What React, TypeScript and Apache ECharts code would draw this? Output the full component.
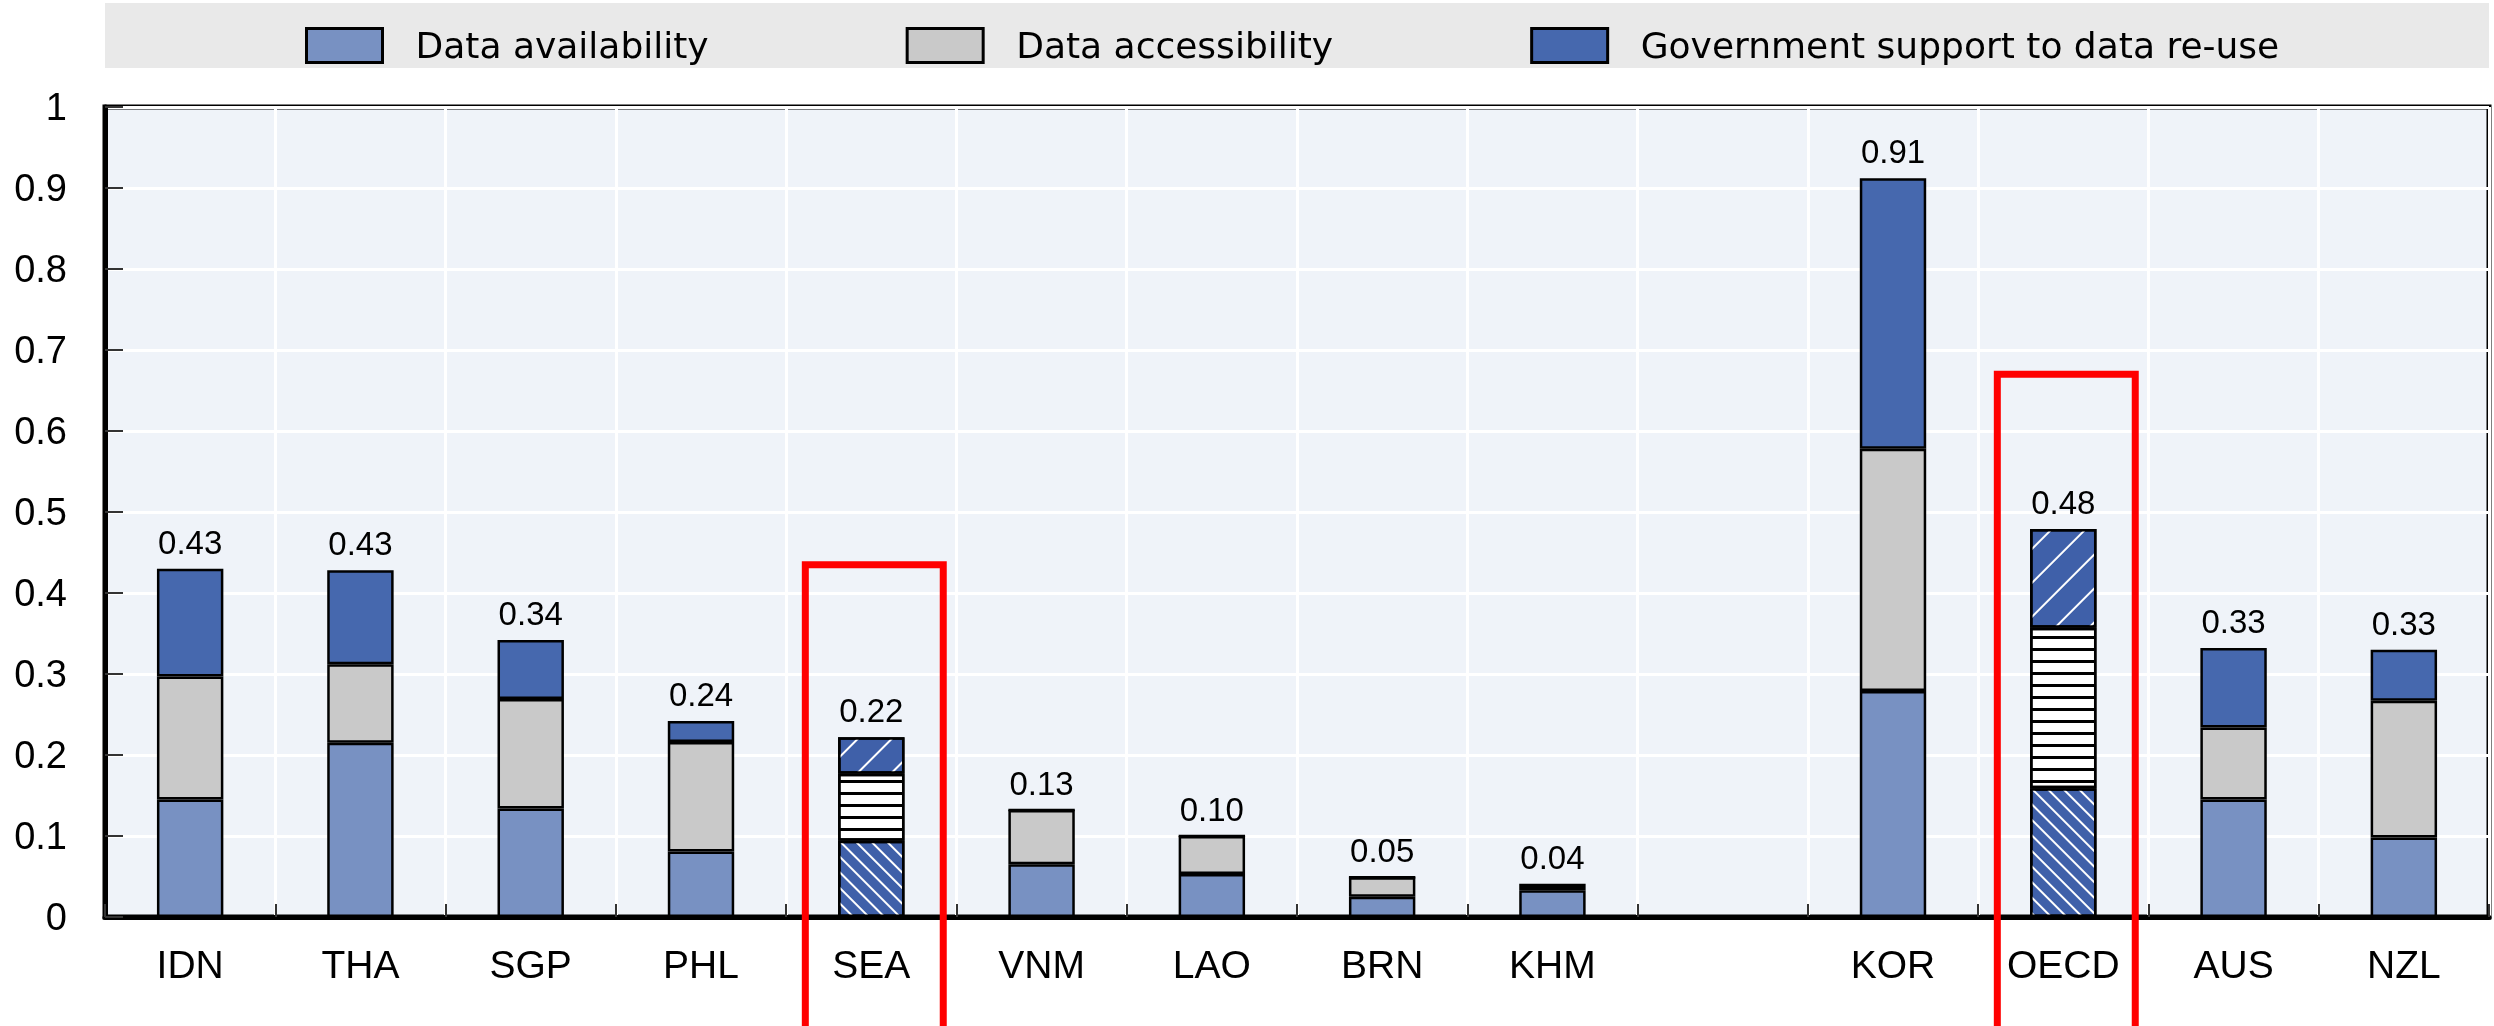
import React, { useEffect, useRef } from "react";
import * as echarts from "echarts";

const categories = ["IDN", "THA", "SGP", "PHL", "SEA", "VNM", "LAO", "BRN", "KHM", "", "KOR", "OECD", "AUS", "NZL"];
const availability = [0.145, 0.215, 0.134, 0.081, 0.094, 0.065, 0.053, 0.025, 0.033, null, 0.279, 0.159, 0.145, 0.098];
const accessibility = [0.152, 0.097, 0.135, 0.135, 0.083, 0.067, 0.047, 0.024, 0.004, null, 0.299, 0.198, 0.089, 0.169];
const govSupport = [0.133, 0.116, 0.073, 0.026, 0.045, 0, 0, 0, 0.004, null, 0.334, 0.122, 0.098, 0.063];
const totals = [0.43, 0.43, 0.34, 0.24, 0.22, 0.13, 0.1, 0.05, 0.04, null, 0.91, 0.48, 0.33, 0.33];
const highlighted = ["SEA", "OECD"];
const highlightTops = [0.435, 0.67];
const seriesNames = ["Data availability", "Data accessibility", "Government support to data re-use"];

const C_AVAIL = "#7891C2";
const C_ACCESS = "#C9C9C9";
const C_GOV = "#4668AE";
const C_HATCH = "#3F60A9";

const decalAvail = { symbol: "rect", symbolSize: 1, dashArrayX: [1, 0], dashArrayY: [2, 9], rotation: Math.PI / 4, color: "#ffffff" };
const decalAccess = { symbol: "rect", symbolSize: 1, dashArrayX: [1, 0], dashArrayY: [2.5, 8.5], rotation: 0, color: "#000000" };
const decalGov = { symbol: "rect", symbolSize: 1, dashArrayX: [1, 0], dashArrayY: [2, 22], rotation: -Math.PI / 4, color: "#ffffff" };

function build(vals: (number | null)[], fill: string, decal: any) {
  return vals.map((v, i) => {
    if (v == null) return "-";
    if (highlighted.includes(categories[i])) {
      return { value: v, itemStyle: { color: fill, decal } };
    }
    return v;
  });
}

export default function App() {
  const ref = useRef<HTMLDivElement>(null);
  useEffect(() => {
    const chart = echarts.init(ref.current!, null, { renderer: "svg" });
    const font = "Liberation Sans";
    const barCommon = {
      type: "bar",
      stack: "s",
      barWidth: "39%",
      animation: false,
    };
    const option: any = {
      animation: false,
      textStyle: { fontFamily: font },
      grid: {
        left: 105,
        right: 5,
        top: 107,
        bottom: 109,
        show: true,
        backgroundColor: "#EFF3F9",
        borderColor: "#000",
        borderWidth: 5,
        containLabel: false,
      },
      legend: {
        data: seriesNames,
        left: 300,
        top: 22,
        itemWidth: 76,
        itemHeight: 34,
        itemGap: 197,
        icon: "rect",
        z: 10,
        itemStyle: { borderColor: "#000", borderWidth: 3 },
        textStyle: { fontFamily: "DejaVu Sans", fontSize: 36, color: "#000", padding: [0, 0, 0, 28] },
        selectedMode: false,
      },
      xAxis: {
        type: "category",
        data: categories,
        axisLine: { lineStyle: { color: "#000", width: 5 } },
        axisTick: { show: true, inside: true, length: 13, lineStyle: { color: "#333", width: 2 } },
        axisLabel: { interval: 0, fontSize: 39, margin: 28, color: "#000", fontFamily: font },
        splitLine: { show: true, lineStyle: { color: "#ffffff", width: 3 } },
      },
      yAxis: {
        type: "value",
        min: 0,
        max: 1,
        interval: 0.1,
        axisLine: { show: true, lineStyle: { color: "#000", width: 5 } },
        axisTick: { show: true, inside: true, length: 18, lineStyle: { color: "#333", width: 2 } },
        axisLabel: { fontSize: 38, margin: 38, color: "#000", fontFamily: font },
        splitLine: { show: true, lineStyle: { color: "#ffffff", width: 3 } },
      },
      series: [
        {
          ...barCommon,
          name: seriesNames[0],
          itemStyle: { color: C_AVAIL, borderColor: "#000", borderWidth: 2.5 },
          data: build(availability, C_HATCH, decalAvail),
        },
        {
          ...barCommon,
          name: seriesNames[1],
          itemStyle: { color: C_ACCESS, borderColor: "#000", borderWidth: 2.5 },
          data: build(accessibility, "#ffffff", decalAccess),
        },
        {
          ...barCommon,
          name: seriesNames[2],
          itemStyle: { color: C_GOV, borderColor: "#000", borderWidth: 2.5 },
          data: build(govSupport, C_HATCH, decalGov),
        },
        {
          ...barCommon,
          name: "Total",
          silent: true,
          itemStyle: { color: "transparent", borderWidth: 0 },
          data: totals.map((t) => (t == null ? "-" : 0)),
          label: {
            show: true,
            position: "top",
            distance: 10,
            fontSize: 33,
            color: "#000",
            fontFamily: font,
            formatter: (p: any) => (totals[p.dataIndex] == null ? "" : (totals[p.dataIndex] as number).toFixed(2)),
          },
        },
      ],
    };
    chart.setOption(option);

    const x0 = chart.convertToPixel({ xAxisIndex: 0 }, 0) as number;
    const x1 = chart.convertToPixel({ xAxisIndex: 0 }, 1) as number;
    const cw = x1 - x0;
    const gridLeft = x0 - cw / 2;
    const gridRight = (chart.convertToPixel({ xAxisIndex: 0 }, categories.length - 1) as number) + cw / 2;
    const boxes = highlighted.map((c, k) => {
      const cx = chart.convertToPixel({ xAxisIndex: 0 }, categories.indexOf(c)) as number;
      const top = chart.convertToPixel({ yAxisIndex: 0 }, highlightTops[k]) as number;
      return {
        type: "rect",
        z: 100,
        shape: { x: cx - cw * 0.405 + 3, y: top, width: cw * 0.81, height: 1100 - top },
        style: { fill: "none", stroke: "#FF0000", lineWidth: 7 },
      };
    });
    chart.setOption({
      graphic: [
        {
          type: "rect",
          z: 0,
          shape: { x: gridLeft, y: 3, width: gridRight - gridLeft, height: 65 },
          style: { fill: "#E9E9E9" },
        },
        ...boxes,
      ],
    });
    return () => chart.dispose();
  }, []);
  return <div ref={ref} style={{ position: "fixed", left: 0, top: 0, width: 2494, height: 1026 }} />;
}
